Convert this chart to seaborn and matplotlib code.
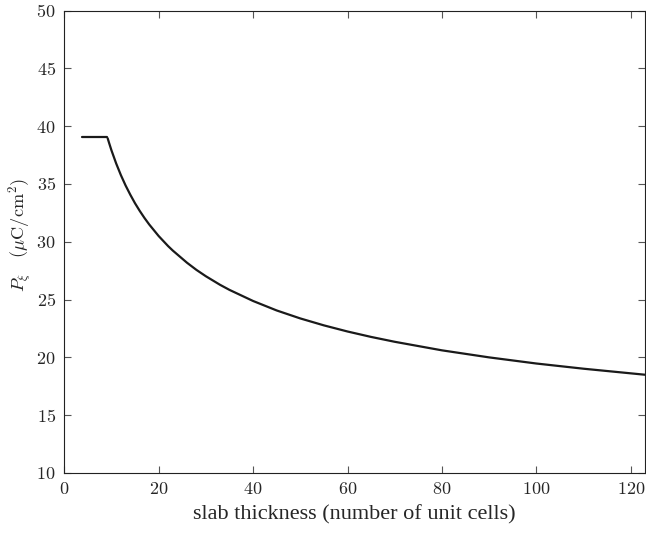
import numpy as np
import pandas as pd
import matplotlib
matplotlib.use("Agg")
import matplotlib.pyplot as plt
from matplotlib.ticker import FuncFormatter
import seaborn as sns

# flat part (thin slabs) and the decaying curve
flat_x = [3.7, 9.0]
flat_p = [39.1, 39.1]

thick_x = [9.2, 9.5, 10, 11, 12, 13, 14, 15, 16, 17, 18, 20, 22, 23, 26, 28,
           30, 33, 35, 40, 45, 50, 55, 60, 65, 70, 80, 90, 100, 110, 123]
thick_p = [38.96, 38.56, 37.92, 36.78, 35.77, 34.87, 34.07, 33.33, 32.67,
           32.06, 31.50, 30.50, 29.63, 29.24, 28.19, 27.57, 27.02, 26.28,
           25.84, 24.88, 24.06, 23.37, 22.77, 22.24, 21.77, 21.35, 20.61,
           20.00, 19.47, 19.02, 18.50]

x_ticks = [0, 20, 40, 60, 80, 100, 120]
y_ticks = [10, 15, 20, 25, 30, 35, 40, 45, 50]

sns.set_theme(style="ticks")
plt.rcParams["font.family"] = ["Liberation Serif", "DejaVu Serif"]
plt.rcParams["mathtext.fontset"] = "cm"

fig = plt.figure(figsize=(6.46, 5.33), dpi=100)
ax = fig.add_axes([0.0994, 0.1126, 0.8990, 0.8675])

flat = pd.DataFrame({"n": flat_x, "P": flat_p})
thick = pd.DataFrame({"n": thick_x, "P": thick_p})
sns.lineplot(data=flat, x="n", y="P", color="#1a1a1a", lw=1.6, ax=ax)
sns.lineplot(data=thick, x="n", y="P", color="#1a1a1a", lw=1.6, ax=ax)

ax.set_xlim(0, 123)
ax.set_ylim(10, 50)
ax.set_xticks(x_ticks)
ax.set_yticks(y_ticks)
fmt = FuncFormatter(lambda v, pos: r"$%d$" % v)
ax.xaxis.set_major_formatter(fmt)
ax.yaxis.set_major_formatter(fmt)
ax.tick_params(direction="in", length=5, width=0.8, color="#555555",
               top=True, right=True, labelsize=13, pad=6)
for s in ax.spines.values():
    s.set_linewidth(0.8)
    s.set_color("#222222")

ax.set_xlabel("slab thickness (number of unit cells)", fontsize=16, labelpad=5)
ax.set_ylabel(r"$P_\xi\ \ \ (\mu\mathrm{C}/\mathrm{cm}^2)$", fontsize=13.2)
ax.yaxis.set_label_coords(-0.054, 0.515)

fig.savefig("out.png", dpi=100)
